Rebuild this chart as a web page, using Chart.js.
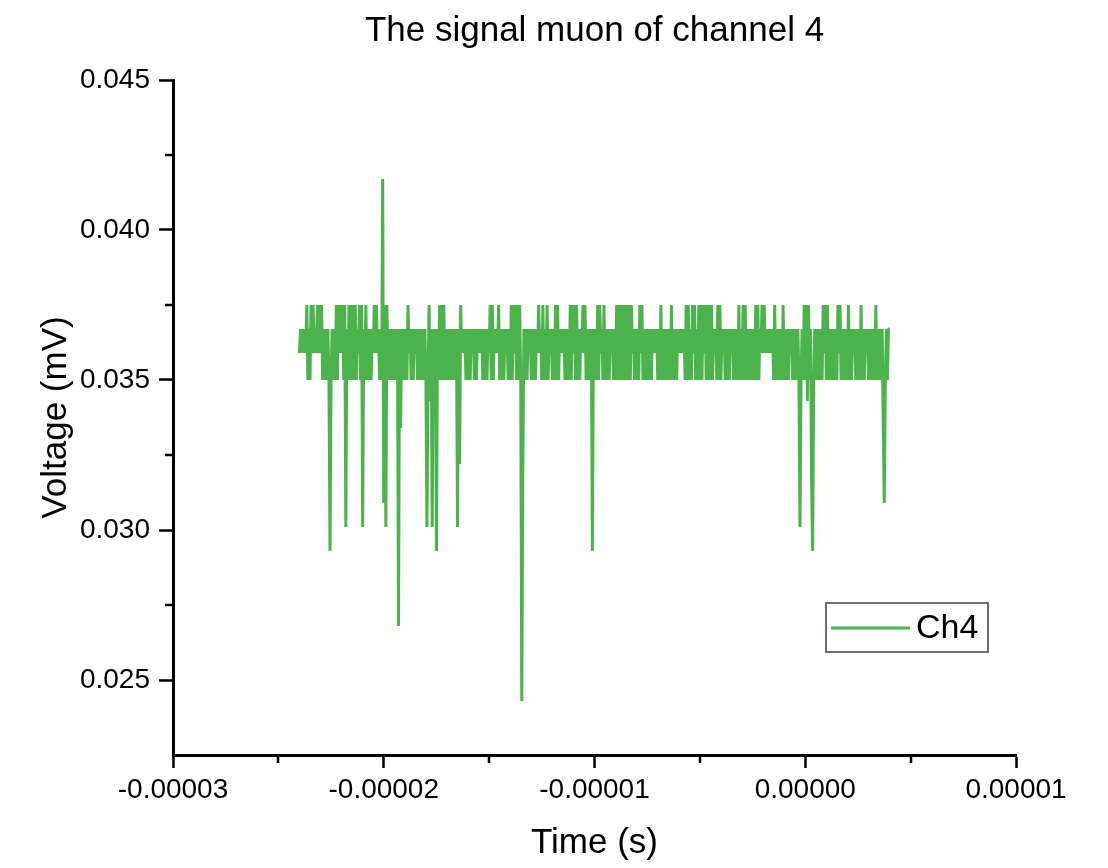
<!DOCTYPE html>
<html>
<head>
<meta charset="utf-8">
<title>The signal muon of channel 4</title>
<script src="https://cdn.jsdelivr.net/npm/chart.js@4.4.1/dist/chart.umd.min.js"></script>
<style>
  html, body { margin: 0; padding: 0; background: #fff; }
</style>
</head>
<body>
<canvas id="sigChart" width="1108" height="868"></canvas>
<script>
// scope trace: one letter per sample, samples 0.05 us apart starting at -24 us
const startTime = -24.0e-6;
const sampleStep = 0.05e-6;

// voltage of each code letter
const levelVolts = {
    a: 0.0359, b: 0.0367, c: 0.0375, d: 0.0350,
    e: 0.0301, f: 0.0293, g: 0.0309, h: 0.0268,
    i: 0.0243, k: 0.0417, m: 0.0334, n: 0.0322,
    p: 0.0343, q: 0.0317
};

// 20 samples (1 us) per row
const sampleCodes = [
    "abababacdbdcacabacac",
    "acdbdbdbdfdbdbdcdcac",
    "acdcebdcdcdcdcdbacdc",
    "ebdcdbdbdbacacabdbdk",
    "gcecdbdbdbdbdbhbmbdb",
    "dbdcabdbdbabdbdbdbdb",
    "dedcpbebdbfbdcdcdcdb",
    "dbdbdbdbdbebncababdb",
    "dbdbabdbdbababdbdbdb",
    "acdcdbabacdbdbdbabdb",
    "dcdcacdcdcdinbdbdbab",
    "dbdbdbacabdcdbdcdbab",
    "dbdcdcdbababdbdbdcdc",
    "acdcdbdbacacdbdbdbfb",
    "dbdcdcabdcdbdbdbabdb",
    "dcdcdcdcdcdcdcdcabdb",
    "dbdcacdbdbdbdbdbabab",
    "dbdcdbdbdbdbdcdbdbdb",
    "abababdcdcdbdcacdbdc",
    "dcdcacdcdcdcdbabdcdc",
    "dbabdbdbdbabdbdbdcdb",
    "dcdcdbdbdbdbdcdcdbac",
    "acababababdcdbdbdbdc",
    "dbdbdbabdbdbdbdedbdc",
    "dcpcdbqfdbdbdbdbdcac",
    "dcdbdbdbdbdcacdbdbdb",
    "dcdbdbabdbdbdcdbdbab",
    "dbdbdbdcdbdbdbmgdbdb",
    "b"
];

const xTicks = [-0.00003, -0.00002, -0.00001, 0, 0.00001];
const xMinorTicks = [-0.000025, -0.000015, -0.000005, 0.000005];
const yTicks = [0.025, 0.030, 0.035, 0.040, 0.045];
const yMinorTicks = [0.0275, 0.0325, 0.0375, 0.0425];

const FONT = '"Liberation Sans", Arial, sans-serif';
Chart.defaults.font.family = FONT;
Chart.defaults.color = "#000";

const points = sampleCodes.join("").split("").map((ch, i) => ({
    x: startTime + i * sampleStep,
    y: levelVolts[ch]
}));

// shorter half-step ticks, like Origin draws them
const minorTicks = {
    id: "minorTicks",
    afterDraw(chart) {
        const { ctx } = chart;
        const x = chart.scales.x;
        const y = chart.scales.y;
        ctx.save();
        ctx.strokeStyle = "#000";
        ctx.lineWidth = 2.5;
        ctx.beginPath();
        xMinorTicks.forEach(v => {
            const px = Math.round(x.getPixelForValue(v));
            ctx.moveTo(px, x.top);
            ctx.lineTo(px, x.top + 8);
        });
        yMinorTicks.forEach(v => {
            const py = Math.round(y.getPixelForValue(v));
            ctx.moveTo(y.right, py);
            ctx.lineTo(y.right - 8, py);
        });
        ctx.stroke();
        ctx.restore();
    }
};

// boxed legend inside the plot
const boxLegend = {
    id: "boxLegend",
    afterDraw(chart) {
        const ds = chart.data.datasets[0];
        const ctx = chart.ctx;
        ctx.save();
        ctx.strokeStyle = "#6e6e6e";
        ctx.lineWidth = 2;
        ctx.strokeRect(826, 603, 162, 49);
        ctx.strokeStyle = ds.borderColor;
        ctx.lineWidth = 3;
        ctx.beginPath();
        ctx.moveTo(831, 628);
        ctx.lineTo(910, 628);
        ctx.stroke();
        ctx.fillStyle = "#000";
        ctx.font = "34px " + FONT;
        ctx.textBaseline = "middle";
        ctx.fillText(ds.label, 916, 629);
        ctx.restore();
    }
};

const sigChart = new Chart(document.getElementById("sigChart"), {
    type: "line",
    data: {
        datasets: [{
            label: "Ch4",
            data: points,
            borderColor: "#4cb34c",
            borderWidth: 3,
            borderJoinStyle: "bevel",
            pointRadius: 0,
            tension: 0,
            fill: false
        }]
    },
    options: {
        responsive: false,
        animation: false,
        events: [],
        layout: { padding: { top: 0, right: 92, bottom: 0, left: 0 } },
        plugins: {
            legend: { display: false },
            tooltip: { enabled: false },
            title: {
                display: true,
                text: "The signal muon of channel 4",
                fullSize: false,
                color: "#000",
                font: { size: 35, weight: "normal" },
                padding: { top: 10, bottom: 28 }
            }
        },
        scales: {
            x: {
                type: "linear",
                min: -0.00003,
                max: 0.00001,
                afterBuildTicks: s => { s.ticks = xTicks.map(v => ({ value: v })); },
                afterFit: s => { s.height = 113; },
                grid: { drawOnChartArea: false, drawTicks: true, tickLength: 13, tickWidth: 2.5, tickColor: "#000" },
                border: { display: true, color: "#000", width: 3 },
                ticks: {
                    autoSkip: false,
                    maxRotation: 0,
                    padding: 5,
                    color: "#000",
                    font: { size: 28 },
                    callback: v => (Math.abs(v) < 1e-12 ? 0 : v).toFixed(5)
                },
                title: {
                    display: true,
                    text: "Time (s)",
                    color: "#000",
                    font: { size: 35 },
                    padding: { top: 0, bottom: 4 }
                }
            },
            y: {
                type: "linear",
                min: 0.0225,
                max: 0.045,
                afterBuildTicks: s => { s.ticks = yTicks.map(v => ({ value: v })); },
                afterFit: s => { s.width = 173; },
                grid: { drawOnChartArea: false, drawTicks: true, tickLength: 14, tickWidth: 2.5, tickColor: "#000" },
                border: { display: true, color: "#000", width: 3 },
                ticks: {
                    autoSkip: false,
                    padding: 9,
                    color: "#000",
                    font: { size: 28 },
                    callback: v => v.toFixed(3)
                },
                title: {
                    display: true,
                    text: "Voltage (mV)",
                    color: "#000",
                    font: { size: 35 },
                    padding: { top: 35, bottom: 0 }
                }
            }
        }
    },
    plugins: [minorTicks, boxLegend]
});
</script>
</body>
</html>
